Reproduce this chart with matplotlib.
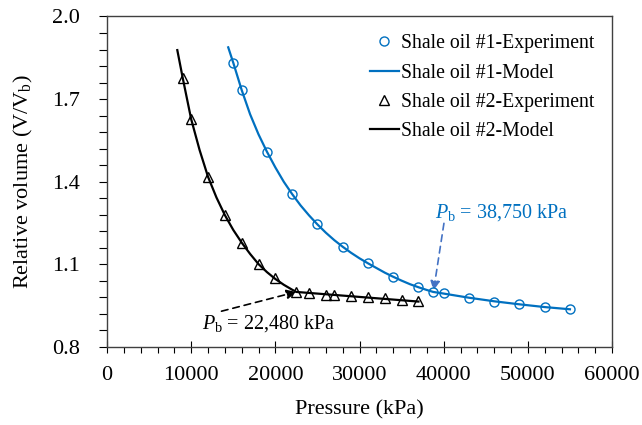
import matplotlib
matplotlib.use("Agg")
import matplotlib.pyplot as plt
from matplotlib.ticker import MultipleLocator, FixedLocator

plt.rcParams['font.family'] = ['Liberation Serif', 'DejaVu Serif']
plt.rcParams['mathtext.fontset'] = 'custom'
plt.rcParams['mathtext.rm'] = 'Liberation Serif'
plt.rcParams['mathtext.it'] = 'Liberation Serif:italic'

# Shale oil #1 experiment
p1_exp = [15000, 16000, 19000, 22000, 25000, 28000, 31000, 34000, 37000, 38750,
          40000, 43000, 46000, 49000, 52000, 55000]
v1_exp = [1.832, 1.733, 1.509, 1.355, 1.245, 1.164, 1.104, 1.055, 1.017, 1.000,
          0.995, 0.979, 0.965, 0.956, 0.946, 0.937]
# Shale oil #1 model
p1_mod = [14400, 15000, 16000, 17000, 18000, 19000, 20000, 21000, 22000, 23000, 24000,
          25000, 26000, 27000, 28000, 29000, 30000, 31000, 32000, 33000, 34000, 35000,
          36000, 37000, 38000, 38750, 40000, 43000, 46000, 49000, 52000, 55000]
v1_mod = [1.888, 1.832, 1.733, 1.645, 1.572, 1.509, 1.452, 1.400, 1.355, 1.314, 1.278,
          1.245, 1.215, 1.188, 1.164, 1.142, 1.122, 1.104, 1.087, 1.070, 1.055, 1.041,
          1.028, 1.017, 1.007, 1.000, 0.994, 0.979, 0.966, 0.955, 0.945, 0.937]

# Shale oil #2 experiment
p2_exp = [9000, 10000, 12000, 14000, 16000, 18000, 20000, 22480, 24000, 26000,
          27000, 29000, 31000, 33000, 35000, 37000]
v2_exp = [1.778, 1.627, 1.418, 1.279, 1.179, 1.101, 1.050, 1.000, 0.996, 0.990,
          0.988, 0.984, 0.981, 0.977, 0.972, 0.967]
# Shale oil #2 model
p2_mod = [8350, 9000, 10000, 11000, 12000, 13000, 14000, 15000, 16000, 17000, 18000,
          19000, 20000, 21000, 22000, 22480, 37000]
v2_mod = [1.878, 1.776, 1.627, 1.515, 1.418, 1.343, 1.279, 1.225, 1.179, 1.138, 1.101,
          1.072, 1.047, 1.026, 1.008, 1.000, 0.965]

y_ticks = [0.8, 1.1, 1.4, 1.7, 2.0]

blue = '#0070C0'
fs = 16
fs_ann = 14.5

fig = plt.figure(figsize=(6.42, 4.25), dpi=100)
ax = fig.add_axes([0.1667, 0.1835, 0.7866, 0.7777])

ax.plot(p1_exp, v1_exp, linestyle='none', marker='o', ms=6.5, mfc='none',
        mec=blue, mew=1.0, label='Shale oil #1-Experiment', zorder=4)
ax.plot(p1_mod, v1_mod, color=blue, lw=1.6, label='Shale oil #1-Model', zorder=3)
ax.plot(p2_exp, v2_exp, linestyle='none', marker='^', ms=6.5, mfc='none',
        mec='black', mew=1.0, label='Shale oil #2-Experiment', zorder=4)
ax.plot(p2_mod, v2_mod, color='black', lw=1.6, label='Shale oil #2-Model', zorder=3)

ax.set_xlim(0, 60000)
ax.set_ylim(0.8, 2.0)
ax.xaxis.set_major_locator(MultipleLocator(10000))
ax.xaxis.set_minor_locator(MultipleLocator(2000))
ax.yaxis.set_major_locator(FixedLocator(y_ticks))
ax.yaxis.set_minor_locator(FixedLocator([0.8 + 0.06 * i for i in range(21)]))
ax.set_yticklabels([f'{v:.1f}' for v in y_ticks])
ax.tick_params(axis='x', which='major', direction='inout', length=9, width=0.8, labelsize=fs, pad=9)
ax.tick_params(axis='x', which='minor', direction='out', length=4, width=0.8)
ax.tick_params(axis='y', which='major', direction='out', length=5.5, width=0.8, labelsize=fs, pad=14)
ax.tick_params(axis='y', which='minor', direction='out', length=5.5, width=0.8)
for s in ax.spines.values():
    s.set_color('#404040')
    s.set_linewidth(1.0)

ax.set_xlabel('Pressure (kPa)', fontsize=fs, labelpad=11)
ax.set_ylabel(r'Relative volume (V/V$_\mathrm{b}$)', fontsize=fs, labelpad=12)

leg = ax.legend(loc='upper right', bbox_to_anchor=(0.988, 0.982), frameon=False,
                fontsize=14.2, handlelength=1.45, handletextpad=0.1,
                labelspacing=0.52, borderaxespad=0.2)

# annotations
ax.annotate('', xy=(22480, 1.0), xytext=(13600, 0.93),
            arrowprops=dict(arrowstyle='-|>', linestyle=(0, (4, 3)), color='black',
                            lw=1.2, mutation_scale=14, shrinkA=0, shrinkB=0))
ax.text(11250, 0.885, r'$P_\mathrm{b}$ = 22,480 kPa', fontsize=fs_ann, ha='left', va='center')

ax.annotate('', xy=(38800, 1.005), xytext=(40030, 1.249),
            arrowprops=dict(arrowstyle='-|>', linestyle=(0, (4, 3)), color='#4472C4',
                            lw=1.2, mutation_scale=14, shrinkA=0, shrinkB=0))
ax.text(39000, 1.29, r'$P_\mathrm{b}$ = 38,750 kPa', fontsize=fs_ann, ha='left',
        va='center', color=blue)

fig.savefig('out.png', dpi=100)
